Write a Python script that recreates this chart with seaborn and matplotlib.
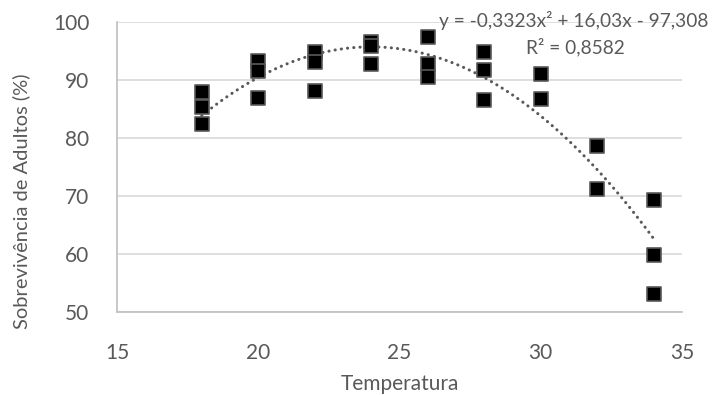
import numpy as np
import pandas as pd
import matplotlib
matplotlib.use("Agg")
import matplotlib.pyplot as plt
import seaborn as sns

temperatura = [18, 18, 18, 20, 20, 20, 22, 22, 22, 24, 24, 24, 26, 26, 26,
               28, 28, 28, 30, 30, 32, 32, 34, 34, 34]
sobrevivencia = [88.0, 85.4, 82.4, 93.3, 91.5, 86.9, 94.9, 93.2, 88.1,
                 96.6, 95.9, 92.7, 97.4, 92.8, 90.5, 94.9, 91.7, 86.5,
                 91.0, 86.7, 78.7, 71.2, 69.4, 59.9, 53.1]
eq_text = "y = -0,3323x² + 16,03x - 97,308"
r2_text = "R² = 0,8582"
x_ticks = [15, 20, 25, 30, 35]
y_ticks = [50, 60, 70, 80, 90, 100]

df = pd.DataFrame({"Temperatura": temperatura, "Sobrevivencia": sobrevivencia})

sns.set_theme(style="white")
plt.rcParams["font.family"] = ["Lato", "DejaVu Sans"]

gray = "#595959"
fig = plt.figure(figsize=(7.14, 3.95), dpi=100)
ax = fig.add_axes([0.1639, 0.210, 0.955 - 0.1639, 0.944 - 0.210])

ax.set_xlim(15, 35)
ax.set_ylim(50, 100)
ax.set_xticks(x_ticks)
ax.set_yticks(y_ticks)
ax.yaxis.grid(True, color="#d9d9d9", linewidth=1.2)
ax.set_axisbelow(True)

sns.regplot(data=df, x="Temperatura", y="Sobrevivencia", order=2, ci=None,
            scatter=False, ax=ax,
            line_kws=dict(color=gray, linewidth=2.2, linestyle=(0, (0.05, 2.0)),
                          dash_capstyle="round", zorder=2))
sns.scatterplot(data=df, x="Temperatura", y="Sobrevivencia", marker="s", s=90,
                color="black", edgecolor="#595959", linewidth=1.2, ax=ax, zorder=3)

for s in ["top", "right"]:
    ax.spines[s].set_visible(False)
for s in ["left", "bottom"]:
    ax.spines[s].set_color("#bfbfbf")
    ax.spines[s].set_linewidth(1.2)

ax.tick_params(axis="both", length=0, labelsize=15, labelcolor=gray)
ax.tick_params(axis="y", pad=20)
ax.tick_params(axis="x", pad=22)
ax.set_xlabel("Temperatura", fontsize=15, color=gray, labelpad=8)
ax.set_ylabel("Sobrevivência de Adultos (%)", fontsize=14.5, color=gray)
ax.yaxis.set_label_coords(-0.154, 0.383)

fig.text(574 / 714, 1 - 21 / 395, eq_text, ha="center", va="center", fontsize=13.8, color=gray)
fig.text(575 / 714, 1 - 47 / 395, r2_text, ha="center", va="center", fontsize=13.8, color=gray)

fig.savefig("out.png", dpi=100)
